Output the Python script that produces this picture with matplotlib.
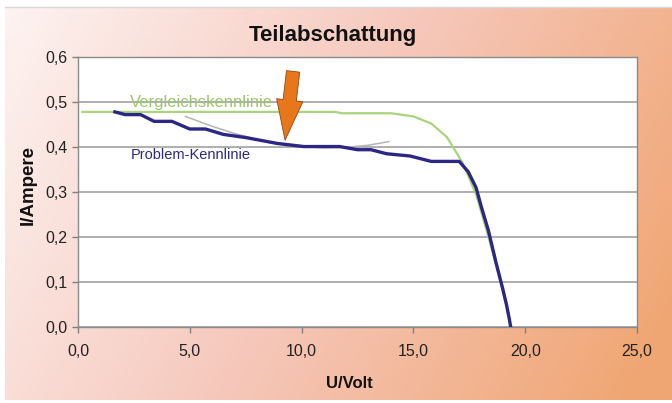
import numpy as np
import matplotlib
matplotlib.use("Agg")
import matplotlib.pyplot as plt
from matplotlib.ticker import FuncFormatter
from matplotlib.patches import FancyArrowPatch

plt.rcParams['font.family'] = ['Liberation Sans', 'DejaVu Sans']

# reference curve (unshaded module)
u_ref = [0.2, 11.5, 11.8, 14.0, 15.0, 15.8, 16.5, 17.2, 17.8, 18.3, 18.8, 19.2, 19.35]
i_ref = [0.478, 0.478, 0.475, 0.475, 0.468, 0.452, 0.422, 0.365, 0.295, 0.21, 0.12, 0.04, 0.0]

# curve with partial shading
u_prob = [1.65, 2.1, 2.8, 3.4, 4.2, 5.0, 5.7, 6.5, 7.5, 8.9, 10.1, 11.7, 12.5, 13.1,
          13.8, 14.85, 15.8, 17.05, 17.45, 17.8, 18.05, 18.35, 18.7, 19.0, 19.17, 19.3, 19.35]
i_prob = [0.478, 0.472, 0.472, 0.457, 0.457, 0.44, 0.44, 0.428, 0.421, 0.408, 0.401, 0.401,
          0.394, 0.394, 0.385, 0.38, 0.368, 0.368, 0.345, 0.31, 0.265, 0.215, 0.142, 0.084,
          0.048, 0.015, 0.0]

# thin grey fit curve
u_fit = [4.8, 6.0, 7.0, 8.0, 9.0, 10.0, 11.0, 12.0, 13.0, 13.9]
i_fit = [0.468, 0.446, 0.43, 0.417, 0.407, 0.401, 0.398, 0.399, 0.404, 0.412]

x_ticks = [0, 5, 10, 15, 20, 25]
y_ticks = [0, 0.1, 0.2, 0.3, 0.4, 0.5, 0.6]

W, H = 672, 403
fig = plt.figure(figsize=(W / 100, H / 100), dpi=100)
fig.patch.set_facecolor('white')

# background gradient (light pink top-left -> orange bottom-right)
bg = fig.add_axes([5 / W, 3 / H, 1 - 5 / W, 1 - 10 / H])
bg.set_axis_off()
ny, nx = 100, 200
xx, yy = np.meshgrid(np.linspace(0, 1, nx), np.linspace(0, 1, ny))
t = np.clip(0.8 * xx + 0.25 * yy, 0, 1)  # yy=1 at bottom (origin upper)
c0 = np.array([253, 243, 241]) / 255
c1 = np.array([246, 200, 188]) / 255
c2 = np.array([240, 166, 115]) / 255
img = np.where(t[..., None] < 0.5,
               c0 + (c1 - c0) * (t[..., None] / 0.5),
               c1 + (c2 - c1) * ((t[..., None] - 0.5) / 0.5))
bg.imshow(img, aspect='auto', extent=[0, 1, 0, 1], origin='upper')
bg.set_xlim(0, 1)
bg.set_ylim(0, 1)
fig.add_artist(plt.Line2D([5 / W, 1], [1 - 7 / H, 1 - 7 / H], color='#d8d8d8', lw=1))

ax = fig.add_axes([78 / W, (H - 327) / H, (637 - 78) / W, (327 - 57) / H])
ax.set_facecolor('white')
ax.set_xlim(0, 25)
ax.set_ylim(0, 0.6)
ax.set_xticks(x_ticks)
ax.set_yticks(y_ticks)
ax.xaxis.set_major_formatter(FuncFormatter(lambda v, p: f"{v:.1f}".replace('.', ',')))
ax.yaxis.set_major_formatter(FuncFormatter(lambda v, p: f"{v:.1f}".replace('.', ',')))
ax.tick_params(axis='both', colors='#808080', labelcolor='#222222', labelsize=11.5,
               length=4, width=1, direction='out')
ax.tick_params(axis='x', pad=8)
for s in ax.spines.values():
    s.set_color('#8a8a8a')
    s.set_linewidth(1)
ax.yaxis.grid(True, color='#a8a8a8', lw=1.3)
ax.set_axisbelow(True)

ax.plot(u_fit, i_fit, color='#b4b4b4', lw=1.1, zorder=2)
ax.plot(u_ref, i_ref, color='#a9d47c', lw=1.6, zorder=3)
ax.plot(u_prob, i_prob, color='#2c2784', lw=2.4, zorder=4)

ax.text(5.5, 0.498, 'Vergleichskennlinie', color='#9cc46e', fontsize=12,
        ha='center', va='center')
ax.text(5.05, 0.382, 'Problem-Kennlinie', color='#2c2784', fontsize=10.5,
        ha='center', va='center')

arrow = FancyArrowPatch((9.62, 0.568), (9.26, 0.415),
                        arrowstyle='simple,head_length=1.45,head_width=0.95,tail_width=0.48',
                        mutation_scale=20, shrinkA=0, shrinkB=0,
                        facecolor='#e8761a', edgecolor='#8a4a10', lw=0.6, zorder=5)
ax.add_patch(arrow)

fig.text(333 / W, 1 - 35 / H, 'Teilabschattung', fontsize=16, fontweight='bold',
         ha='center', va='center', color='#111111')
fig.text(349 / W, 1 - 384 / H, 'U/Volt', fontsize=12, fontweight='bold',
         ha='center', va='center', color='#111111')
fig.text(28 / W, 1 - 185 / H, 'I/Ampere', fontsize=13.5, fontweight='bold',
         ha='center', va='center', rotation=90, color='#111111')

fig.savefig('out.png', dpi=100)
